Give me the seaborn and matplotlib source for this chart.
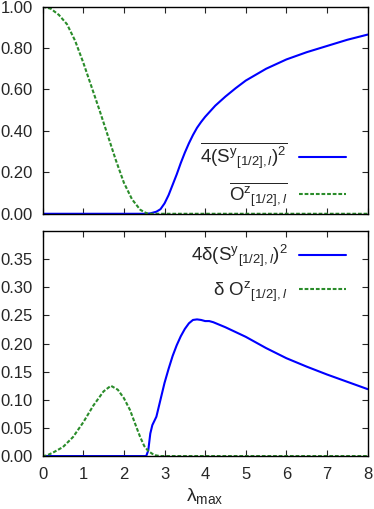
import numpy as np
import pandas as pd
import matplotlib
matplotlib.use("Agg")
import matplotlib.pyplot as plt
import seaborn as sns

# top panel: averaged order parameters
lam_top_blue = [0, 1, 2, 2.55, 2.65, 2.8, 2.9, 3.0, 3.1, 3.2, 3.3, 3.4, 3.5, 3.6, 3.7, 3.8,
                3.9, 4.0, 4.25, 4.5, 4.75, 5.0, 5.5, 6.0, 6.5, 7.0, 7.5, 8.0]
sy_top = [0, 0, 0, 0, 0.002, 0.01, 0.022, 0.05, 0.09, 0.14, 0.19, 0.245, 0.295, 0.34, 0.38, 0.415,
          0.443, 0.468, 0.522, 0.566, 0.606, 0.643, 0.70, 0.745, 0.78, 0.81, 0.84, 0.865]
lam_top_green = [0, 0.2, 0.4, 0.6, 0.8, 1.0, 1.2, 1.4, 1.6, 1.8, 2.0, 2.2, 2.4, 2.5, 2.6,
                 3, 4, 5, 6, 7, 8]
oz_top = [1.0, 0.99, 0.96, 0.915, 0.835, 0.73, 0.615, 0.50, 0.38, 0.26, 0.15, 0.07, 0.02, 0.008, 0.0,
          0, 0, 0, 0, 0, 0]

# bottom panel: fluctuations
lam_bot_blue = [0, 1, 2, 2.55, 2.6, 2.65, 2.7, 2.8, 2.9, 3.0, 3.1, 3.2, 3.3, 3.4, 3.5, 3.6, 3.7,
                3.8, 3.9, 4.0, 4.1, 4.2, 4.5, 5.0, 5.5, 6.0, 6.5, 7.0, 7.5, 8.0]
dsy_bot = [0, 0, 0, 0, 0.01, 0.04, 0.055, 0.07, 0.10, 0.13, 0.155, 0.178, 0.197, 0.213, 0.226,
           0.236, 0.242, 0.243, 0.242, 0.240, 0.240, 0.238, 0.229, 0.212, 0.192, 0.174, 0.159,
           0.145, 0.132, 0.119]
lam_bot_green = [0, 0.1, 0.25, 0.5, 0.75, 1.0, 1.25, 1.5, 1.68, 1.85, 2.0, 2.15, 2.3, 2.4, 2.5,
                 2.6, 2.7, 2.8, 2.9, 4, 5, 6, 7, 8]
doz_bot = [0, 0.001, 0.006, 0.016, 0.034, 0.060, 0.090, 0.115, 0.125, 0.118, 0.103, 0.082, 0.053,
           0.034, 0.018, 0.009, 0.004, 0.001, 0, 0, 0, 0, 0, 0]

lab_top_blue = r'$\overline{4(\mathrm{S}^{\mathrm{y}}{}_{[1/2],l})^2}$'
lab_top_green = r'$\overline{\mathrm{O}^{\mathrm{z}}{}_{[1/2],l}}$'
lab_bot_blue = r'$4\mathrm{\delta}(\mathrm{S}^{\mathrm{y}}{}_{[1/2],l})^2$'
lab_bot_green = r'$\mathrm{\delta}\ \mathrm{O}^{\mathrm{z}}{}_{[1/2],l}$'

sns.set_style("ticks")
plt.rcParams['font.family'] = ['Liberation Sans', 'DejaVu Sans']
plt.rcParams['mathtext.fontset'] = 'custom'
plt.rcParams['mathtext.rm'] = 'Liberation Sans'
plt.rcParams['mathtext.it'] = 'Liberation Sans:italic'
plt.rcParams['mathtext.bf'] = 'Liberation Sans:bold'
plt.rcParams['font.size'] = 12

blue = '#0000ff'
green = '#2a8c2a'
dash = (0, (1.8, 0.9))

fig = plt.figure(figsize=(3.74, 5.09), dpi=100)
ax1 = fig.add_axes([0.114, 0.580, 0.869, 0.407])
ax2 = fig.add_axes([0.114, 0.104, 0.869, 0.442])

sns.lineplot(x=lam_top_blue, y=sy_top, ax=ax1, color=blue, lw=1.5, label=lab_top_blue)
sns.lineplot(x=lam_top_green, y=oz_top, ax=ax1, color=green, lw=1.5, linestyle=dash, label=lab_top_green)
sns.lineplot(x=lam_bot_blue, y=dsy_bot, ax=ax2, color=blue, lw=1.5, label=lab_bot_blue)
sns.lineplot(x=lam_bot_green, y=doz_bot, ax=ax2, color=green, lw=1.5, linestyle=dash, label=lab_bot_green)

for ax in (ax1, ax2):
    ax.set_xlim(0, 8)
    ax.set_xticks(range(0, 9))
    ax.tick_params(direction='in', length=4, width=0.8, top=True, right=True, labelsize=12)
    ax.tick_params(axis='y', pad=7)
    ax.tick_params(axis='x', pad=8)
    for s in ax.spines.values():
        s.set_linewidth(1.0)
        s.set_color('black')

ax1.set_ylim(0, 1.0)
ax1.set_yticks(np.arange(0, 1.01, 0.2))
ax1.yaxis.set_major_formatter(matplotlib.ticker.FormatStrFormatter('%.2f'))
ax1.set_xticklabels([])

ax2.set_ylim(0, 0.40)
ax2.set_yticks(np.arange(0, 0.351, 0.05))
ax2.yaxis.set_major_formatter(matplotlib.ticker.FormatStrFormatter('%.2f'))
ax2.set_xlabel(r'$\mathrm{\lambda}_{\mathrm{max}}$', fontsize=14, labelpad=3)

ax1.legend(loc='lower right', bbox_to_anchor=(0.955, -0.01), frameon=False, markerfirst=False,
           handlelength=2.5, handletextpad=0.6, labelspacing=0.5, borderaxespad=0, fontsize=13.5)
ax2.legend(loc='upper right', bbox_to_anchor=(0.955, 0.98), frameon=False, markerfirst=False,
           handlelength=2.5, handletextpad=0.6, labelspacing=0.55, borderaxespad=0, fontsize=13.5)

fig.savefig('out.png', dpi=100)
